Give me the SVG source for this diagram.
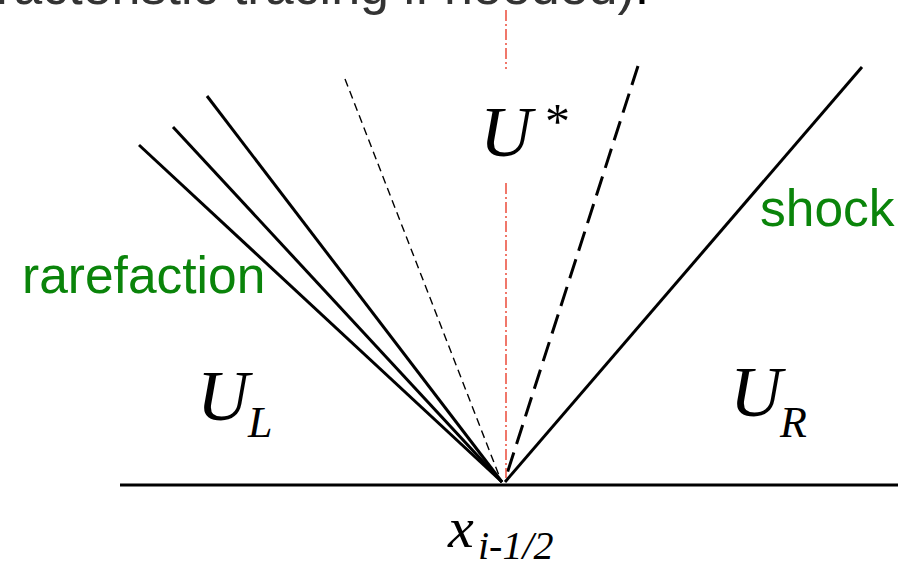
<svg xmlns="http://www.w3.org/2000/svg" width="907" height="564" viewBox="0 0 907 564">
<style>
.solid{stroke:#000;stroke-width:3;fill:none;stroke-linecap:butt}
.thin{stroke:#000;stroke-width:1.4;fill:none;stroke-dasharray:8 5}
.thick{stroke:#000;stroke-width:3;fill:none;stroke-dasharray:20 9}
.axis{stroke:#e8301c;stroke-width:1.3;fill:none;stroke-dasharray:11 3 2 3}
.math{font-family:"Liberation Serif","Times New Roman",serif;font-style:italic;fill:#000}
.label{font-family:"Liberation Sans",Arial,sans-serif;fill:#0a840a;font-size:51.5px}
</style>
<rect width="907" height="564" fill="#fff"/>
<text x="-4" y="4" font-family="Liberation Sans, Arial, sans-serif" font-size="52" fill="#333">racteristic tracing if needed)<tspan fill="#000">.</tspan></text>
<g id="connectors">
<line class="solid" x1="120" y1="485" x2="898" y2="485"/>
<line class="solid" x1="139" y1="145" x2="502" y2="482"/>
<line class="solid" x1="173" y1="127" x2="502" y2="482"/>
<line class="solid" x1="207" y1="96" x2="502" y2="482"/>
<line class="thin" x1="345" y1="79" x2="500" y2="478"/>
<line class="thick" x1="638" y1="66" x2="505" y2="480"/>
<line class="solid" x1="862" y1="67" x2="505" y2="482"/>
<line class="axis" x1="506" y1="10" x2="506" y2="69"/>
<line class="axis" x1="506" y1="183" x2="506" y2="478"/>
</g>
<g id="ustar"><text class="math" x="480" y="156" font-size="72">U</text><text x="545" y="138" font-family="Liberation Serif, Times New Roman, serif" font-size="50" fill="#000">*</text></g>
<g id="ul"><text class="math" x="197" y="420" font-size="72">U</text><text class="math" x="248" y="437" font-size="44">L</text></g>
<g id="ur"><text class="math" x="730" y="416" font-size="72">U</text><text class="math" x="780" y="437" font-size="44">R</text></g>
<g id="xlabel"><text class="math" x="448" y="547" font-size="58">x</text><text class="math" x="478" y="559" font-size="40">i-1/2</text></g>
<g id="rarefaction"><text class="label" x="22" y="293">rarefaction</text></g>
<g id="shock"><text class="label" x="760" y="226">shock</text></g>
</svg>
